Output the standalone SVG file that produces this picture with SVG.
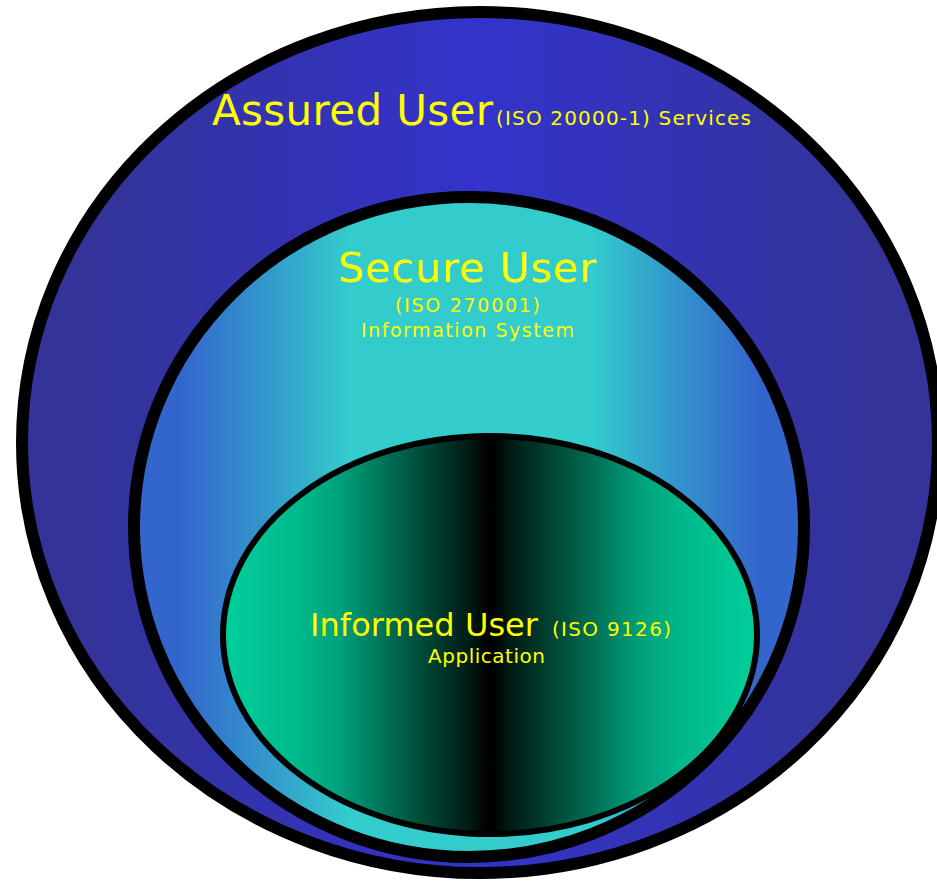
<svg xmlns="http://www.w3.org/2000/svg" width="937" height="881" viewBox="0 0 937 881">
  <defs>
    <linearGradient id="gOuter" x1="0" y1="0" x2="1" y2="0">
      <stop offset="0.08" stop-color="#333399"/>
      <stop offset="0.5" stop-color="#3333cc"/>
      <stop offset="0.92" stop-color="#333399"/>
    </linearGradient>
    <linearGradient id="gMiddle" x1="0" y1="0" x2="1" y2="0">
      <stop offset="0.07" stop-color="#3366cc"/>
      <stop offset="0.2" stop-color="#3399cc"/>
      <stop offset="0.32" stop-color="#33cccc"/>
      <stop offset="0.68" stop-color="#33cccc"/>
      <stop offset="0.8" stop-color="#3399cc"/>
      <stop offset="0.93" stop-color="#3366cc"/>
    </linearGradient>
    <linearGradient id="gInner" x1="0" y1="0" x2="1" y2="0">
      <stop offset="0.02" stop-color="#00cc99"/>
      <stop offset="0.144" stop-color="#00b88a"/>
      <stop offset="0.219" stop-color="#00a07a"/>
      <stop offset="0.369" stop-color="#004d3a"/>
      <stop offset="0.4625" stop-color="#001a14"/>
      <stop offset="0.496" stop-color="#000000"/>
      <stop offset="0.504" stop-color="#000000"/>
      <stop offset="0.5375" stop-color="#001a14"/>
      <stop offset="0.631" stop-color="#004d3a"/>
      <stop offset="0.781" stop-color="#00a07a"/>
      <stop offset="0.856" stop-color="#00b88a"/>
      <stop offset="0.98" stop-color="#00cc99"/>
    </linearGradient>
    <style>
      .ring { stroke: #000000; }
      .lbl { fill: #ffff00; font-family: "DejaVu Sans", "Liberation Sans", sans-serif; }
    </style>
  </defs>

  <rect x="0" y="0" width="937" height="881" fill="#ffffff"/>

  <g id="node-assured">
    <ellipse class="ring" cx="480" cy="442.5" rx="458" ry="430.5" fill="url(#gOuter)" stroke-width="12"/>
    <text class="lbl" x="212" y="125" font-size="42" textLength="281" lengthAdjust="spacing">Assured User</text>
    <text class="lbl" x="496" y="125" font-size="20" textLength="255" lengthAdjust="spacing">(ISO 20000-1) Services</text>
  </g>

  <g id="node-secure">
    <ellipse class="ring" cx="469" cy="527" rx="335" ry="330" fill="url(#gMiddle)" stroke-width="12"/>
    <text class="lbl" x="338" y="282" font-size="41" textLength="258" lengthAdjust="spacing">Secure User</text>
    <text class="lbl" x="395" y="312" font-size="19" textLength="145" lengthAdjust="spacing">(ISO 270001)</text>
    <text class="lbl" x="361" y="337" font-size="19" textLength="213" lengthAdjust="spacing">Information System</text>
  </g>

  <g id="node-informed">
    <ellipse class="ring" cx="490" cy="635" rx="267" ry="199" fill="url(#gInner)" stroke-width="6"/>
    <text class="lbl" x="310" y="636" font-size="32" textLength="228" lengthAdjust="spacing">Informed User</text>
    <text class="lbl" x="552" y="636" font-size="20" textLength="119" lengthAdjust="spacing">(ISO 9126)</text>
    <text class="lbl" x="428" y="663" font-size="20" textLength="117" lengthAdjust="spacing">Application</text>
  </g>

  <g id="connectors"></g>
</svg>
